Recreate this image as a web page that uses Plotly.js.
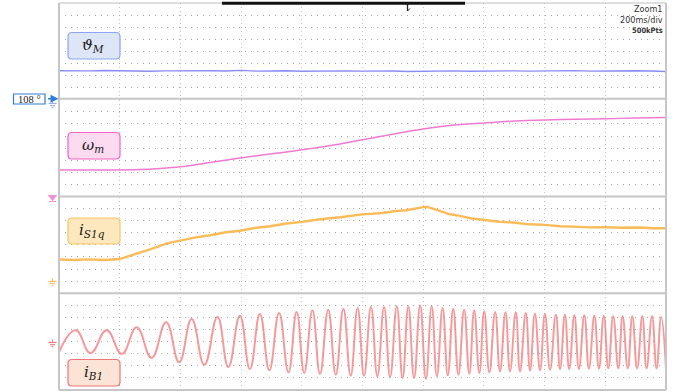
<!DOCTYPE html>
<html>
<head>
<meta charset="utf-8">
<script src="https://cdn.plot.ly/plotly-3.0.1.min.js"></script>
<style>
  html, body { margin: 0; padding: 0; background: #ffffff; }
  #scope { width: 680px; height: 392px; }
</style>
</head>
<body>
<div id="scope"></div>
<script>
// ---- Time base: 10 divisions x 200 ms/div ----
const majorTimes = [0, 200, 400, 600, 800, 1000, 1200, 1400, 1600, 1800, 2000];
const divRows = [-3, -2, -1, 0, 1, 2, 3];

// ---- Channel 1: rotor angle theta_M (screen divisions) ----
const thetaT = [0, 50, 100, 150, 200, 250, 300, 350, 400, 450, 500, 550, 600, 650, 700, 750, 800, 850, 900, 950,
                1000, 1050, 1100, 1150, 1200, 1250, 1300, 1350, 1400, 1450, 1500, 1550, 1600, 1650, 1700, 1750,
                1800, 1850, 1900, 1950, 2000];
const thetaV = [-1.60, -1.63, -1.61, -1.58, -1.62, -1.60, -1.64, -1.61, -1.59, -1.63, -1.60, -1.62, -1.57, -1.63,
                -1.61, -1.60, -1.64, -1.62, -1.59, -1.61, -1.63, -1.60, -1.62, -1.66, -1.63, -1.60, -1.61, -1.64,
                -1.62, -1.58, -1.61, -1.63, -1.60, -1.62, -1.59, -1.63, -1.61, -1.64, -1.60, -1.62, -1.66];

// ---- Channel 2: speed omega_m (screen divisions) ----
const omegaT = [0, 135, 267, 333, 399, 498, 596, 695, 801, 926, 1058, 1199, 1288, 1400, 1503, 1601, 1703, 1802, 1901, 2000];
const omegaV = [-1.81, -1.81, -1.77, -1.68, -1.54, -1.19, -0.82, -0.49, -0.14, 0.34, 0.96, 1.58, 1.87, 2.08, 2.24,
                2.33, 2.39, 2.43, 2.49, 2.53];

// ---- Channel 3: stator q-current i_S1q (screen divisions) ----
const isqT = [0, 50, 100, 150, 200, 244, 300, 356, 399, 450, 498, 550, 596, 650, 695, 750, 801, 860, 926, 1000,
              1066, 1110, 1144, 1180, 1210, 1250, 1285, 1320, 1360, 1397, 1450, 1496, 1550, 1601, 1650, 1694,
              1750, 1802, 1850, 1914, 1960, 2000];
const isqV = [-1.21, -1.25, -1.20, -1.25, -1.17, -0.83, -0.37, 0.13, 0.35, 0.62, 0.80, 1.04, 1.17, 1.42, 1.54,
              1.77, 1.90, 2.12, 2.28, 2.52, 2.64, 2.80, 2.86, 3.03, 3.16, 2.86, 2.55, 2.40, 2.18, 2.08, 1.91,
              1.85, 1.70, 1.65, 1.54, 1.51, 1.45, 1.47, 1.41, 1.44, 1.37, 1.38];

// ---- Channel 4: phase current i_B1, successive peaks and troughs (screen divisions) ----
const ibT = [0, 55, 104, 157, 207, 256, 305, 353, 396, 437, 479, 522, 558, 596, 629, 662, 693, 725, 756, 783,
             808, 835, 860, 887, 912, 937, 961, 984, 1005, 1028, 1049, 1071, 1091, 1113, 1132, 1151, 1170, 1190,
             1209, 1228, 1245, 1264, 1281, 1299, 1316, 1335, 1352, 1368, 1385, 1401, 1418, 1437, 1453, 1471,
             1486, 1505, 1519, 1538, 1552, 1568, 1585, 1601, 1618, 1637, 1651, 1667, 1681, 1698, 1713, 1731,
             1746, 1764, 1779, 1795, 1810, 1826, 1843, 1857, 1874, 1889, 1905, 1922, 1936, 1954, 1969, 1984, 2000];
const ibV = [-0.88, 0.94, -0.94, 0.94, -1.02, 1.18, -1.35, 1.60, -1.71, 1.87, -1.91, 2.04, -2.10, 2.14, -2.26,
             2.28, -2.37, 2.37, -2.54, 2.45, -2.59, 2.59, -2.68, 2.64, -2.74, 2.72, -2.82, 2.78, -2.82, 2.86,
             -2.87, 2.86, -2.93, 2.92, -3.01, 2.92, -3.01, 3.00, -3.09, 2.92, -2.87, 2.78, -2.79, 2.72, -2.74,
             2.64, -2.65, 2.59, -2.60, 2.51, -2.54, 2.45, -2.46, 2.42, -2.46, 2.42, -2.46, 2.37, -2.40, 2.31,
             -2.37, 2.28, -2.32, 2.23, -2.26, 2.23, -2.26, 2.18, -2.26, 2.18, -2.24, 2.14, -2.24, 2.14, -2.21,
             2.09, -2.21, 2.09, -2.21, 2.09, -2.21, 2.09, -2.21, 2.09, -2.21, 2.04, -2.26];

// ---- Screen geometry (pixels) ----
const W = 680, H = 392;
const L = 59, R = 666, T = 3, B = 390;
const px = x => (x - L) / (R - L);
const py = y => (B - y) / (B - T);

const traces = [
  { x: thetaT, y: thetaV, xaxis: 'x', yaxis: 'y', mode: 'lines',
    line: { color: '#8a8cf6', width: 1.4 }, hoverinfo: 'skip' },
  { x: omegaT, y: omegaV, xaxis: 'x', yaxis: 'y2', mode: 'lines',
    line: { color: '#f07ad2', width: 1.5, shape: 'spline', smoothing: 0.8 }, hoverinfo: 'skip' },
  { x: isqT, y: isqV, xaxis: 'x', yaxis: 'y3', mode: 'lines',
    line: { color: '#fbb447', width: 2.4 }, opacity: 0.9, hoverinfo: 'skip' },
  { x: ibT, y: ibV, xaxis: 'x', yaxis: 'y4', mode: 'lines',
    line: { color: '#f27878', width: 2, shape: 'spline', smoothing: 1.3 }, opacity: 0.75, hoverinfo: 'skip' }
];

function yAxis(domain) {
  return {
    domain: domain, range: [-4, 4], tickvals: divRows, showticklabels: false, ticks: '',
    showgrid: true, gridcolor: '#a8a8a8', gridwidth: 1, griddash: '1px,5px',
    zeroline: false, showline: false, fixedrange: true
  };
}

// rounded label box
function roundBox(x0, y0, x1, y1, r, fill, edge) {
  const p = (x, y) => px(x).toFixed(5) + ',' + py(y).toFixed(5);
  const d = 'M' + p(x0 + r, y0) + ' L' + p(x1 - r, y0) + ' Q' + p(x1, y0) + ' ' + p(x1, y0 + r) +
            ' L' + p(x1, y1 - r) + ' Q' + p(x1, y1) + ' ' + p(x1 - r, y1) +
            ' L' + p(x0 + r, y1) + ' Q' + p(x0, y1) + ' ' + p(x0, y1 - r) +
            ' L' + p(x0, y0 + r) + ' Q' + p(x0, y0) + ' ' + p(x0 + r, y0) + ' Z';
  return { type: 'path', xref: 'paper', yref: 'paper', path: d, fillcolor: fill,
           line: { color: edge, width: 1.2 }, layer: 'above' };
}

function seg(x0, y0, x1, y1, color, width) {
  return { type: 'line', xref: 'paper', yref: 'paper', x0: px(x0), y0: py(y0), x1: px(x1), y1: py(y1),
           line: { color: color, width: width }, layer: 'above' };
}

// channel ground reference symbol
function ground(x, y, color) {
  return [
    seg(x, y - 3, x, y, color, 1),
    seg(x - 4, y, x + 4, y, color, 1.2),
    seg(x - 2.5, y + 2.2, x + 2.5, y + 2.2, color, 1.1),
    seg(x - 1, y + 4.2, x + 1, y + 4.2, color, 1)
  ];
}

const frame = '#c6c6c6';
const shapes = [
  // panel separators and outer frame
  seg(L, 98.75, R, 98.75, frame, 2),
  seg(L, 196.5, R, 196.5, frame, 2),
  seg(L, 293.25, R, 293.25, frame, 2),
  seg(L, B, R, B, frame, 2),
  seg(L, T, R, T, '#bdbdbd', 1),
  seg(L, T, L, B, frame, 2),
  seg(R, T, R, B, frame, 2),
  // zoom window bar and trigger mark
  seg(222, 3.2, 465, 3.2, '#111111', 3),
  seg(407.5, 3, 407.5, 11, '#222222', 1.3),
  seg(405.5, 4, 409.5, 4, '#222222', 1.3),
  seg(407.5, 11, 410, 8.5, '#222222', 1),
  // label boxes
  roundBox(68, 32.5, 120, 59, 4, '#dde6f6', '#8ea3f2'),
  roundBox(68, 132.5, 120, 159, 4, '#fcdaf0', '#ef66c4'),
  roundBox(68, 218, 120, 244, 4, '#fde8bd', '#f8c266'),
  roundBox(68, 359.5, 120, 386, 4, '#fbe3d6', '#f07575'),
  // channel 1 offset tag
  { type: 'rect', xref: 'paper', yref: 'paper', x0: px(13.5), x1: px(45), y0: py(94), y1: py(104),
    fillcolor: '#ffffff', line: { color: '#2f7fd2', width: 1.2 }, layer: 'above' },
  // channel 2 marker (down arrow)
  { type: 'path', xref: 'paper', yref: 'paper', layer: 'above',
    path: 'M' + px(48.5) + ',' + py(195.5) + ' L' + px(56.5) + ',' + py(195.5) + ' L' + px(52.5) + ',' + py(200.5) + ' Z',
    fillcolor: '#f58fd6', line: { color: '#f58fd6', width: 1 } },
  seg(49, 201.5, 56, 201.5, '#f58fd6', 1)
].concat(ground(52.5, 103.5, '#8fb3ea'))
 .concat(ground(52.5, 281.5, '#f9b960'))
 .concat(ground(52.5, 342.5, '#f07b7b'));

const mathFont = { family: 'DejaVu Serif, Liberation Serif, serif', size: 15, color: '#1a1a1a' };
const infoFont = { family: 'DejaVu Sans Condensed, Liberation Sans Narrow, DejaVu Sans, sans-serif', size: 9, color: '#333333' };

function label(x, y, text, font, xanchor) {
  return { xref: 'paper', yref: 'paper', x: px(x), y: py(y), text: text, showarrow: false,
           xanchor: xanchor || 'center', yanchor: 'middle', font: font };
}

const annotations = [
  label(93, 45.5, '<i>ϑ</i><sub><i>M</i></sub>', mathFont),
  label(93, 145.5, '<i>ω</i><sub><i>m</i></sub>', mathFont),
  label(92, 230.5, '<i>i</i><sub><i>S1q</i></sub>', mathFont),
  label(93, 372.5, '<i>i</i><sub><i>B1</i></sub>', mathFont),
  label(665, 9, 'Zoom1', infoFont, 'right'),
  label(665, 20, '200ms/div', infoFont, 'right'),
  label(665, 31, '<b>500kPts</b>', { family: infoFont.family, size: 7.5, color: '#333333' }, 'right'),
  label(29.3, 99.2, '108 °', { family: 'Liberation Serif, DejaVu Serif, serif', size: 10.5, color: '#222222' }),
  { xref: 'paper', yref: 'paper', x: px(58.5), y: py(98.75), text: '', showarrow: true,
    ax: -12, ay: 0, arrowhead: 2, arrowsize: 1, arrowwidth: 1.6, arrowcolor: '#2f7fd2' }
];

const layout = {
  width: W, height: H,
  margin: { l: L, r: W - R, t: T, b: H - B, pad: 0 },
  paper_bgcolor: '#ffffff', plot_bgcolor: '#ffffff',
  showlegend: false,
  xaxis: {
    domain: [0, 1], range: [0, 2000], tickvals: majorTimes, showticklabels: false, ticks: '',
    showgrid: true, gridcolor: '#c4c4c4', gridwidth: 1, griddash: '1px,3px',
    zeroline: false, showline: false, fixedrange: true
  },
  yaxis: yAxis([0.75, 1]),
  yaxis2: yAxis([0.5, 0.75]),
  yaxis3: yAxis([0.25, 0.5]),
  yaxis4: yAxis([0, 0.25]),
  shapes: shapes,
  annotations: annotations
};

Plotly.newPlot('scope', traces, layout, { staticPlot: true, displayModeBar: false });
</script>
</body>
</html>
